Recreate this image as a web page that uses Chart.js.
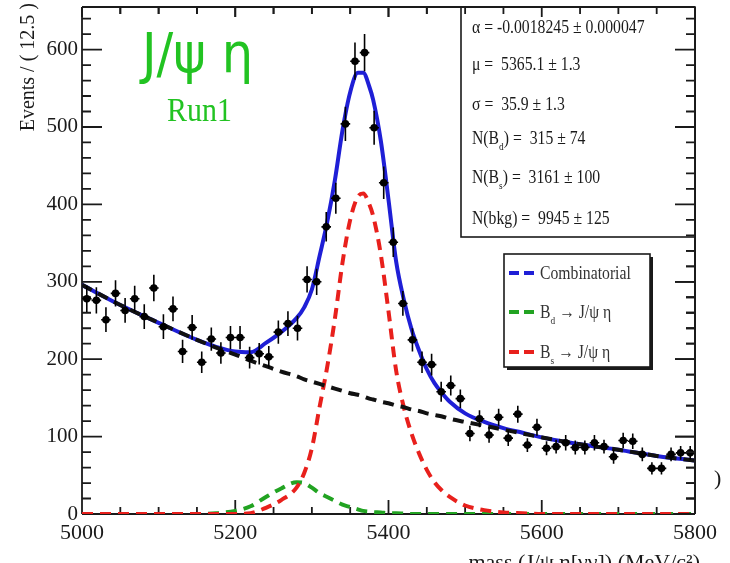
<!DOCTYPE html>
<html>
<head>
<meta charset="utf-8">
<script src="https://cdn.jsdelivr.net/npm/chart.js@4.4.1/dist/chart.umd.min.js"></script>
<style>
  html, body { margin: 0; padding: 0; background: #fff; }
  canvas { display: block; }
</style>
</head>
<body>
<canvas id="massChart" width="730" height="563"></canvas>
<script>
// histogram binning (MeV/c^2)
const massMin = 5000;
const massMax = 5800;
const binWidth = 12.5;
const yMax = 655;

// events per 12.5 MeV bin
const counts = [278, 276, 251, 285, 263, 278, 255, 292, 242, 265, 210, 241, 196, 226, 208, 228,
                228, 202, 207, 203, 235, 246, 240, 303, 300, 371, 408, 504, 585, 596, 499, 428,
                351, 272, 225, 196, 193, 158, 166, 149, 104, 123, 102, 125, 98, 129, 89, 112,
                85, 87, 92, 86, 86, 92, 87, 74, 95, 94, 77, 59, 59, 77, 79, 79];
const countErrors = [17, 17, 16, 17, 16, 17, 16, 17, 16, 16, 15, 16, 14, 15, 14, 15,
                     15, 14, 14, 14, 15, 16, 16, 17, 17, 19, 20, 22, 24, 24, 22, 21,
                     19, 16, 15, 14, 14, 13, 13, 12, 10, 11, 10, 11, 10, 11, 9, 11,
                     9, 9, 10, 9, 9, 10, 9, 9, 10, 10, 9, 8, 8, 9, 9, 9];

// fit components, sampled along the mass axis
const curveMass = [5000, 5050, 5100, 5150, 5175, 5200, 5220, 5240, 5260, 5280, 5290, 5300, 5310, 5320,
                   5330, 5340, 5350, 5360, 5367, 5375, 5380, 5390, 5400, 5410, 5420, 5430, 5440, 5450,
                   5460, 5470, 5480, 5500, 5525, 5550, 5575, 5600, 5650, 5700, 5750, 5800];
const totalFit = [296, 270, 247, 225, 216, 210, 209, 221, 235, 253, 267, 290, 333, 377,
                  431, 496, 545, 570, 570, 552, 535, 482, 406, 326, 277, 239, 211, 187,
                  169, 156, 145, 130, 119, 111, 105, 99, 90, 83, 75, 69];
const combinatorial = [296, 270, 247, 225, 215, 206, 198, 191, 184, 178, 174, 171, 168, 165,
                       162, 159, 156, 154, 152, 149, 148, 145, 143, 140, 138, 135, 133, 130,
                       128, 126, 123, 119, 114, 109, 104, 99, 90, 83, 75, 69];
const bsSignal = [0, 0, 0, 0, 0, 0, 1, 8, 18, 34, 53, 85, 138, 190,
                  252, 325, 380, 410, 414, 400, 385, 335, 262, 185, 138, 104, 78, 57,
                  41, 30, 22, 11, 5, 2, 1, 0, 0, 0, 0, 0];
const bdSignal = [0, 0, 0, 0, 1, 4, 10, 22, 33, 41, 40, 34, 27, 22,
                  17, 12, 9, 6, 4, 3, 2.5, 2, 1, 1, 0.5, 0, 0, 0,
                  0, 0, 0, 0, 0, 0, 0, 0, 0, 0, 0, 0];

const xTickStep = 200;
const yTickStep = 100;

// fit result box and legend text
const fitResults = [
  [['α = -0.0018245 ± 0.000047']],
  [['μ =  5365.1 ± 1.3']],
  [['σ =  35.9 ± 1.3']],
  [['N(B'], ['d', 'sub'], [') =  315 ± 74']],
  [['N(B'], ['s', 'sub'], [') =  3161 ± 100']],
  [['N(bkg) =  9945 ± 125']]
];
const legendItems = [
  { parts: [['Combinatorial']], color: '#1f1fd6' },
  { parts: [['B'], ['d', 'sub'], [' → J/ψ η']], color: '#22a322' },
  { parts: [['B'], ['s', 'sub'], [' → J/ψ η']], color: '#e8201c' }
];

const serif = '"Liberation Serif", "Times New Roman", serif';
const binCenter = i => massMin + (i + 0.5) * binWidth;
const pairs = (xs, ys) => xs.map((x, i) => ({ x: x, y: ys[i] }));

function drawRich(ctx, parts, x, y, size, squash) {
  ctx.save();
  ctx.translate(x, y);
  ctx.scale(squash, 1);
  let cx = 0;
  parts.forEach(([text, kind]) => {
    if (kind === 'sub') {
      ctx.font = Math.round(size * 0.62) + 'px ' + serif;
      ctx.fillText(text, cx, size * 0.3);
    } else {
      ctx.font = size + 'px ' + serif;
      ctx.fillText(text, cx, 0);
    }
    cx += ctx.measureText(text).width;
  });
  ctx.restore();
}

// ROOT style frame with inward ticks
function drawFrame(chart, sides) {
  const { ctx, chartArea: a, scales: { x, y } } = chart;
  ctx.save();
  ctx.strokeStyle = '#1a1a1a';
  ctx.lineWidth = 1.8;
  ctx.beginPath();
  if (sides.includes('left')) { ctx.moveTo(a.left, a.top); ctx.lineTo(a.left, a.bottom); }
  if (sides.includes('right')) { ctx.moveTo(a.right, a.top); ctx.lineTo(a.right, a.bottom); }
  if (sides.includes('top')) { ctx.moveTo(a.left, a.top); ctx.lineTo(a.right, a.top); }
  if (sides.includes('bottom')) { ctx.moveTo(a.left, a.bottom); ctx.lineTo(a.right, a.bottom); }
  for (let m = massMin; m <= massMax; m += 50) {
    const px = x.getPixelForValue(m);
    const major = m % xTickStep === 0;
    if (sides.includes('bottom')) { ctx.moveTo(px, a.bottom); ctx.lineTo(px, a.bottom - (major ? 14 : 7)); }
    if (sides.includes('top')) { ctx.moveTo(px, a.top); ctx.lineTo(px, a.top + (major ? 10 : 7)); }
  }
  for (let v = 0; v <= yMax; v += 20) {
    const py = y.getPixelForValue(v);
    const major = v % yTickStep === 0;
    if (sides.includes('left')) { ctx.moveTo(a.left, py); ctx.lineTo(a.left + (major ? 20 : 9), py); }
    if (sides.includes('right')) { ctx.moveTo(a.right, py); ctx.lineTo(a.right - (major ? 20 : 9), py); }
  }
  ctx.stroke();
  ctx.restore();
}

function drawErrorBars(chart) {
  const { ctx, scales: { x, y } } = chart;
  ctx.save();
  ctx.strokeStyle = '#000';
  ctx.lineWidth = 1.6;
  ctx.beginPath();
  counts.forEach((c, i) => {
    const m = binCenter(i);
    const px = x.getPixelForValue(m);
    const py = y.getPixelForValue(c);
    ctx.moveTo(px, y.getPixelForValue(c + countErrors[i]));
    ctx.lineTo(px, y.getPixelForValue(c - countErrors[i]));
    ctx.moveTo(x.getPixelForValue(m - binWidth / 2), py);
    ctx.lineTo(x.getPixelForValue(m + binWidth / 2), py);
  });
  ctx.stroke();
  ctx.restore();
}

function drawBoxes(chart) {
  const ctx = chart.ctx;
  ctx.save();
  // fit results
  ctx.fillStyle = '#fff';
  ctx.fillRect(461, 7, 234, 230);
  ctx.strokeStyle = '#1a1a1a';
  ctx.lineWidth = 1.6;
  ctx.strokeRect(461, 7, 234, 230);
  ctx.fillStyle = '#1a1a1a';
  ctx.textBaseline = 'alphabetic';
  const rows = [32.5, 70, 110, 144, 183, 224];
  fitResults.forEach((parts, i) => drawRich(ctx, parts, 472, rows[i], 18.5, 0.85));

  // legend with shadow
  ctx.fillStyle = '#1a1a1a';
  ctx.fillRect(507, 257, 146, 113);
  ctx.fillStyle = '#fff';
  ctx.fillRect(504, 254, 146, 113);
  ctx.strokeRect(504, 254, 146, 113);
  const legRows = [273, 312, 352];
  legendItems.forEach((item, i) => {
    ctx.strokeStyle = item.color;
    ctx.lineWidth = 4;
    ctx.setLineDash([10, 5]);
    ctx.beginPath();
    ctx.moveTo(509, legRows[i]);
    ctx.lineTo(534, legRows[i]);
    ctx.stroke();
    ctx.setLineDash([]);
    ctx.fillStyle = '#333';
    drawRich(ctx, item.parts, 540, legRows[i] + 6, 18.5, 0.85);
  });
  ctx.restore();
}

function drawTexts(chart) {
  const ctx = chart.ctx;
  ctx.save();
  ctx.fillStyle = '#1a1a1a';
  // y axis title, aligned to the top
  ctx.save();
  ctx.translate(29, 3);
  ctx.rotate(-Math.PI / 2);
  ctx.font = '20px ' + serif;
  ctx.textAlign = 'right';
  ctx.textBaseline = 'middle';
  ctx.fillText('Events / ( 12.5 )', 0, 0);
  ctx.restore();
  // x axis title, cut by the bottom edge
  ctx.font = '22px ' + serif;
  ctx.textAlign = 'right';
  ctx.textBaseline = 'alphabetic';
  ctx.fillText('mass (J/ψ η[γγ]) (MeV/c²)', 700, 569);
  ctx.textAlign = 'left';
  ctx.fillText(')', 714, 485);
  // channel label
  ctx.fillStyle = '#22c322';
  ctx.save();
  ctx.translate(142, 72);
  ctx.scale(0.9, 1);
  ctx.font = '55px "DejaVu Sans", sans-serif';
  ctx.fillText('J/ψ η', 0, 0);
  ctx.restore();
  ctx.save();
  ctx.translate(167, 121);
  ctx.scale(0.88, 1);
  ctx.font = '34px ' + serif;
  ctx.fillText('Run1', 0, 0);
  ctx.restore();
  ctx.restore();
}

const rootStyle = {
  id: 'rootStyle',
  beforeDatasetsDraw(chart) { drawFrame(chart, ['left', 'right', 'top', 'bottom']); },
  afterDatasetsDraw(chart) { drawErrorBars(chart); },
  afterDraw(chart) {
    drawBoxes(chart);
    drawFrame(chart, ['top', 'right']);
    drawTexts(chart);
  }
};

const curveStyle = (color, dash) => ({
  showLine: true,
  fill: false,
  borderColor: color,
  borderWidth: 4,
  borderDash: dash,
  pointRadius: 0,
  cubicInterpolationMode: 'monotone'
});

new Chart(document.getElementById('massChart'), {
  type: 'scatter',
  data: {
    datasets: [
      { label: 'Data', data: counts.map((c, i) => ({ x: binCenter(i), y: c })),
        pointRadius: 3.8, pointBackgroundColor: '#000', pointBorderWidth: 0, order: 0 },
      Object.assign({ label: 'Combinatorial', data: pairs(curveMass, combinatorial), order: 1 }, curveStyle('#111', [11, 7])),
      Object.assign({ label: 'Bs', data: pairs(curveMass, bsSignal), order: 2 }, curveStyle('#e8201c', [11, 7])),
      Object.assign({ label: 'Bd', data: pairs(curveMass, bdSignal), order: 3 }, curveStyle('#22a322', [11, 7])),
      Object.assign({ label: 'Total', data: pairs(curveMass, totalFit), order: 4 }, curveStyle('#1f1fd6', []))
    ]
  },
  options: {
    responsive: false,
    animation: false,
    events: [],
    layout: { padding: { top: 7, right: 35, left: 0, bottom: 0 } },
    plugins: { legend: { display: false }, tooltip: { enabled: false } },
    scales: {
      x: {
        type: 'linear', min: massMin, max: massMax,
        grid: { display: false, drawTicks: false },
        border: { display: false },
        ticks: { stepSize: xTickStep, padding: 6, color: '#1a1a1a', font: { family: serif, size: 22 },
                 callback: v => String(v) },
        afterFit: s => { s.height = 49; s.paddingLeft = 0; s.paddingRight = 0; }
      },
      y: {
        type: 'linear', min: 0, max: yMax,
        grid: { display: false, drawTicks: false },
        border: { display: false },
        ticks: { stepSize: yTickStep, padding: 4, color: '#1a1a1a', font: { family: serif, size: 21 },
                 callback: v => String(v) },
        afterBuildTicks: s => { s.ticks = s.ticks.filter(t => t.value % yTickStep === 0); },
        afterFit: s => { s.width = 82; s.paddingTop = 0; s.paddingBottom = 0; }
      }
    }
  },
  plugins: [rootStyle]
});
</script>
</body>
</html>
